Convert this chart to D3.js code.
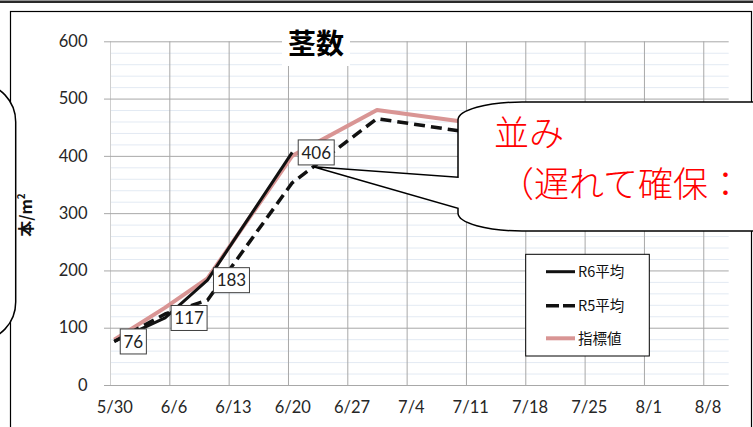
<!DOCTYPE html>
<html>
<head>
<meta charset="utf-8">
<script src="https://cdn.jsdelivr.net/npm/d3@7"></script>
<style>
  html, body { margin: 0; padding: 0; background: #fff; }
  svg { display: block; }
</style>
</head>
<body>
<svg id="chart" width="753" height="427"></svg>
<script>
// ---- data -------------------------------------------------------------
const surveyDates = ["2024-05-30", "2024-06-05", "2024-06-10", "2024-06-20", "2024-06-30", "2024-07-10"];
const r6Values    = [76, 117, 183, 406];              // R6平均 (surveyed up to 6/20)
const r5Values    = [76, 124, 148, 353, 465, 443];    // R5平均
const indexValues = [79, 135, 186, 400, 480, 460];    // 指標値
const seriesNames = ["R6平均", "R5平均", "指標値"];
const tickDates   = ["2024-05-30", "2024-06-06", "2024-06-13", "2024-06-20", "2024-06-27",
                     "2024-07-04", "2024-07-11", "2024-07-18", "2024-07-25", "2024-08-01", "2024-08-08"];
const yTickValues = [0, 100, 200, 300, 400, 500, 600];
const titleText   = "茎数";
const calloutLines = ["並み", "（遅れて確保："];

// ---- setup ------------------------------------------------------------
const parse = d3.timeParse("%Y-%m-%d");
const fmtTick = d3.timeFormat("%-m/%-d");
const dates = surveyDates.map(parse);
const ticks = tickDates.map(parse);
const mid = d => d3.timeHour.offset(d, 12);   // points sit in the middle of their day

const plot = { left: 110, right: 728.7, top: 41.3, bottom: 385 };
const x = d3.scaleTime()
  .domain([parse("2024-05-30"), parse("2024-08-11")])
  .range([plot.left, plot.right]);
const y = d3.scaleLinear().domain([0, 600]).range([plot.bottom, plot.top]);

const svg = d3.select("#chart");
const sansNum = "Lato, 'Open Sans', sans-serif";
const cjk = "'Noto Sans CJK JP', 'Noto Sans', sans-serif";

// top rule and chart frame
svg.append("line").attr("x1", 0).attr("x2", 753).attr("y1", 1.8).attr("y2", 1.8)
  .attr("stroke", "#2a2a2a").attr("stroke-width", 2.6);
svg.append("rect").attr("x", 10.5).attr("y", 11.5).attr("width", 741).attr("height", 440)
  .attr("fill", "#fff").attr("stroke", "#000").attr("stroke-width", 1.2);

// minor horizontal gridlines (every 20)
const minorVals = d3.range(20, 600, 20).filter(v => v % 100 !== 0);
svg.append("g").selectAll("line").data(minorVals).join("line")
  .attr("x1", plot.left).attr("x2", plot.right)
  .attr("y1", d => y(d) + 0.5).attr("y2", d => y(d) + 0.5)
  .attr("stroke", "#e3eaf3").attr("stroke-width", 1);

// vertical gridlines + date labels
const halfDay = x(mid(ticks[0])) - x(ticks[0]);
const xAxis = svg.append("g").attr("transform", `translate(0,${plot.bottom})`)
  .call(d3.axisBottom(x).tickValues(ticks).tickFormat(fmtTick)
    .tickSize(-(plot.bottom - plot.top)).tickPadding(16.3));
xAxis.select(".domain").remove();
xAxis.selectAll(".tick line").attr("stroke", (d, i) => i === 0 ? "#cfcfcf" : "#a8a8a8");
xAxis.selectAll(".tick text").attr("dx", halfDay)
  .attr("font-family", sansNum).attr("font-size", 16.5).attr("fill", "#262626");

// major horizontal gridlines + value labels
const yAxis = svg.append("g").attr("transform", `translate(${plot.right},0)`)
  .call(d3.axisLeft(y).tickValues(yTickValues)
    .tickSize(plot.right - 104).tickPadding(16.5));
yAxis.select(".domain").remove();
yAxis.selectAll(".tick line").attr("stroke", "#a8a8a8");
yAxis.selectAll(".tick text")
  .attr("font-family", sansNum).attr("font-size", 16.5).attr("fill", "#262626");

// title with its white backing
svg.append("rect").attr("x", 282).attr("y", 26).attr("width", 68).attr("height", 40).attr("fill", "#fff");
svg.append("text").attr("x", 316).attr("y", 54).attr("text-anchor", "middle")
  .attr("font-family", cjk).attr("font-weight", 700).attr("font-size", 28).attr("fill", "#000")
  .text(titleText);

// ---- series -----------------------------------------------------------
const toPoints = vals => vals.map((v, i) => ({ date: dates[i], value: v }));
const line = d3.line().x(d => x(mid(d.date))).y(d => y(d.value));

const seriesStyle = [
  { values: r6Values,    color: "#111", width: 3,   dash: null },
  { values: r5Values,    color: "#111", width: 3.5, dash: "11,6" },
  { values: indexValues, color: "#d99594", width: 4, dash: null }
];
// draw in the order 指標値 underneath, then R5, then R6
[2, 1, 0].forEach(k => {
  const s = seriesStyle[k];
  svg.append("path").datum(toPoints(s.values))
    .attr("d", line).attr("fill", "none")
    .attr("stroke", s.color).attr("stroke-width", s.width)
    .attr("stroke-dasharray", s.dash).attr("stroke-linejoin", "round");
});

// value labels on R6 points
const lbl = svg.append("g").selectAll("g").data(toPoints(r6Values)).join("g")
  .attr("transform", d => `translate(${x(mid(d.date)) + 6},${y(d.value)})`);
lbl.append("text").attr("x", 3.2).attr("dy", "0.36em")
  .attr("font-family", sansNum).attr("font-size", 17).attr("fill", "#222")
  .text(d => d.value);
lbl.each(function () {
  const g = d3.select(this);
  const w = g.select("text").node().getComputedTextLength() + 6.4;
  g.insert("rect", "text").attr("x", 0).attr("y", -12.5).attr("width", w).attr("height", 25)
    .attr("fill", "#fff").attr("stroke", "#404040").attr("stroke-width", 1);
});

// ---- legend -----------------------------------------------------------
const legend = svg.append("g");
legend.append("rect").attr("x", 525.7).attr("y", 254.3).attr("width", 123.6).attr("height", 101.7)
  .attr("fill", "#fff").attr("stroke", "#000").attr("stroke-width", 1);
const legendRows = [271.7, 305.7, 338.3];
seriesNames.forEach((name, i) => {
  const s = seriesStyle[i];
  legend.append("line").attr("x1", 546).attr("x2", 575)
    .attr("y1", legendRows[i]).attr("y2", legendRows[i])
    .attr("stroke", s.color).attr("stroke-width", s.width)
    .attr("stroke-dasharray", s.dash ? "13,4" : null);
  legend.append("text").attr("x", 578).attr("y", legendRows[i]).attr("dy", "0.36em")
    .attr("font-family", cjk).attr("font-size", 14.5).attr("fill", "#111")
    .text(name);
});

// ---- speech bubbles -----------------------------------------------------
// right bubble with its pointer on the R5 line
svg.append("path")
  .attr("d", "M 800,102 L 522,102 A 64,18 0 0 0 458,120 L 458,177.3 L 313.3,166.7 " +
             "L 458,208.3 L 458,213 A 64,18 0 0 0 522,231 L 800,231 Z")
  .attr("fill", "#fff").attr("stroke", "#000").attr("stroke-width", 1.5);
svg.append("text").attr("x", 494).attr("y", 146)
  .attr("font-family", cjk).attr("font-weight", 300).attr("font-size", 35).attr("fill", "#ff0000")
  .text(calloutLines[0]);
svg.append("text").attr("x", 499).attr("y", 197)
  .attr("font-family", cjk).attr("font-weight", 300).attr("font-size", 35).attr("fill", "#ff0000")
  .text(calloutLines[1]);

// left bubble edge
svg.append("path")
  .attr("d", "M -60,84 L -20.3,84 A 36,38 0 0 1 15.7,122 L 15.7,302 A 36,38 0 0 1 -20.3,340 L -60,340 Z")
  .attr("fill", "#fff").attr("stroke", "#000").attr("stroke-width", 1.5);

// y-axis title
const yTitle = svg.append("text")
  .attr("transform", "translate(32,215) rotate(-90)")
  .attr("text-anchor", "middle")
  .attr("font-family", cjk).attr("font-weight", 700).attr("font-size", 16).attr("fill", "#111");
yTitle.append("tspan").text("本/m");
yTitle.append("tspan").attr("font-size", 10).attr("dy", -7).text("2");
</script>
</body>
</html>
